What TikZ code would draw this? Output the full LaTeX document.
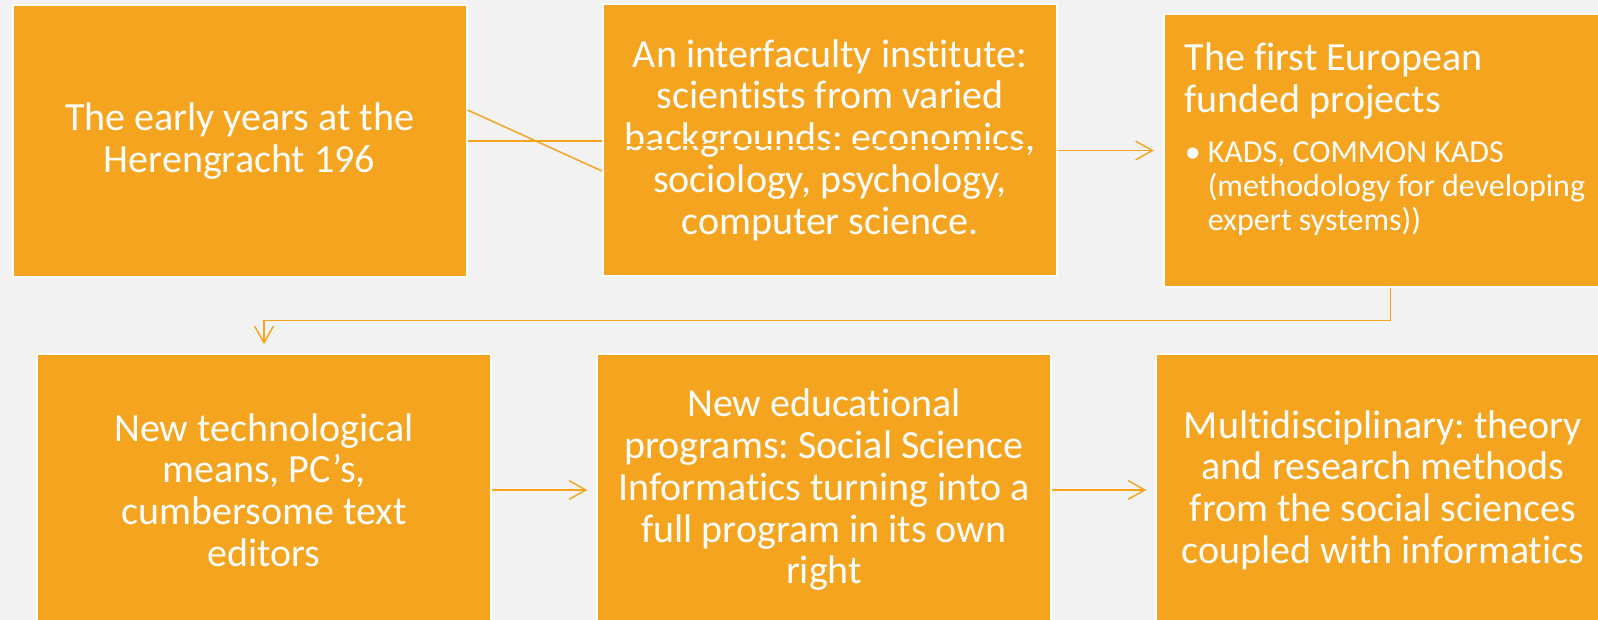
\documentclass[tikz,border=0pt]{standalone}
\usepackage{fontspec}
\setmainfont{Carlito}[Ligatures=NoCommon]
\frenchspacing
\usetikzlibrary{arrows.meta,calc,positioning}
\definecolor{BackClr}{RGB}{242,242,242}
\definecolor{BoxClr}{RGB}{245,164,31}

\begin{document}
\begin{tikzpicture}[x=0.75pt,y=-0.75pt,
  stepbox/.style={draw=white,line width=1.5pt,fill=BoxClr,text=white,
    minimum width=340.5pt,minimum height=204pt,inner sep=0pt,align=center,
    font=\fontsize{30pt}{31.3pt}\selectfont},
  link/.style={draw=BoxClr,line width=1.1pt},
  arr/.style={link,-{Straight Barb[length=12.5pt,width=14pt]},shorten >=6.5pt}]

\fill[BackClr] (0,0) rectangle (1598,620);
\clip (0,0) rectangle (1598,620);

% Top row of boxes.
\node[stepbox] (early) at (239.5,141) {The early years at the\\Herengracht 196};
\node[stepbox] (inst) at (830,140) {An interfaculty institute:\\scientists from varied\\backgrounds: economics,\\sociology, psychology,\\computer science.};
\node[stepbox] (euro) at (1390.5,150.5) {};
\node[anchor=north west,text=white,align=left,inner sep=0pt,
  font=\fontsize{30pt}{31.3pt}\selectfont] (eurotxt) at ($(euro.north west)+(22,29)$)
  {The first European\\funded projects\\[6pt]
   {\fontsize{24pt}{25.5pt}\selectfont\makebox[17.25pt][l]{\textbullet}\begin{tabular}[t]{@{}l@{}}KADS, COMMON KADS\\(methodology for developing\\expert systems))\end{tabular}}};

% Bottom row of boxes.
\node[stepbox] (tech) at (264,490) {New technological\\means, PC’s,\\cumbersome text\\editors};
\node[stepbox] (prog) at (824,490) {New educational\\programs: Social Science\\Informatics turning into a\\full program in its own\\right};
\node[stepbox] (multi) at (1383,490) {Multidisciplinary: theory\\and research methods\\from the social sciences\\coupled with informatics};

% Connectors.
\coordinate (d1) at ($(early.east)+(0,-31)$);
\coordinate (d2) at ($(inst.west)+(0,31)$);
\draw[link] (early.east) -- (early.east -| inst.west);
\draw[link] (d1) -- (d2);
\draw[link] ($(inst.west)+(2,5)$) -- ($(inst.east)+(-2,5)$);
\draw[arr] (euro.west -| inst.east) -- (euro.west);
\draw[arr] (euro.south) -- ++(0,33) -| (tech.north);
\draw[arr] (tech.east) -- (prog.west);
\draw[arr] (prog.east) -- (multi.west);

\end{tikzpicture}
\end{document}
